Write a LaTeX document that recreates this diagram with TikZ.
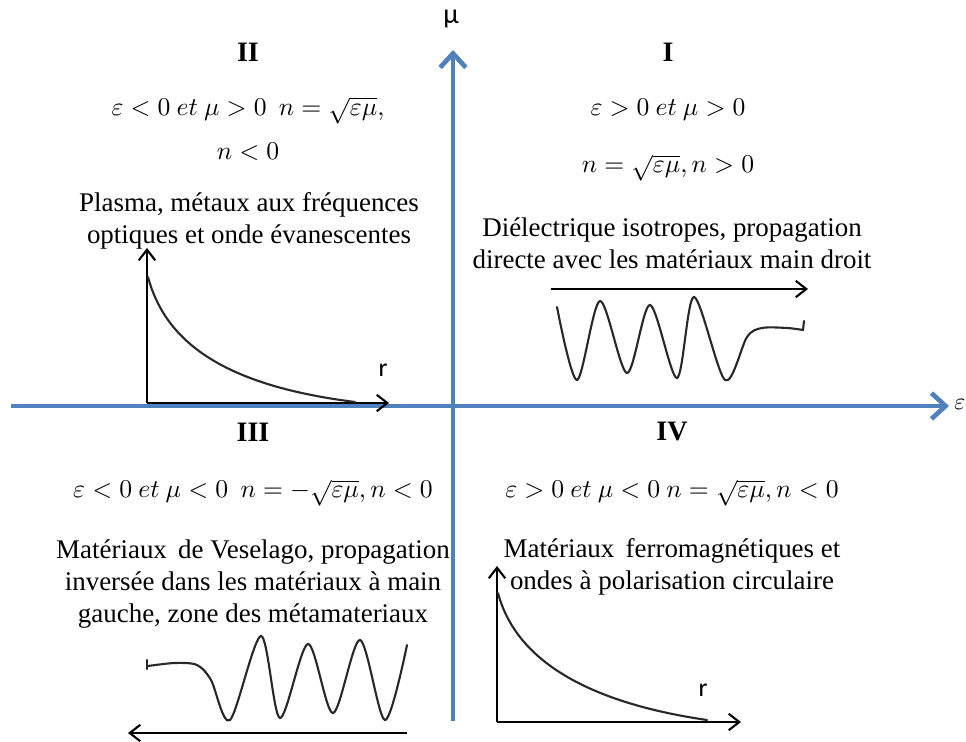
\documentclass[tikz,border=0pt]{standalone}
\usepackage{amsmath,amssymb}
\usepackage{fontspec}
\setmainfont{Liberation Serif}
\setsansfont{Carlito}
\usepackage{xcolor}
\usetikzlibrary{calc, positioning, arrows.meta}
\definecolor{axisblue}{RGB}{79,129,189}
\definecolor{wavegray}{RGB}{40,40,40}

\begin{document}
\begin{tikzpicture}[x=0.015cm, y=-0.015cm, >=Stealth]
    \tikzset{
        main axis/.style={line width=2pt, axisblue,
            -{Straight Barb[length=6pt, width=11pt, line width=2pt]}},
        small axis/.style={line width=0.9pt, black,
            -{Straight Barb[length=4.5pt, width=7pt, line width=0.9pt]}},
        wave/.style={line width=0.9pt, wavegray, line cap=round},
        txt/.style={align=center, font=\fontsize{11.5}{13.6}\selectfont, inner sep=0pt},
        mathtxt/.style={align=center, font=\fontsize{10.5}{13}\selectfont, inner sep=0pt},
        roman/.style={font=\bfseries\fontsize{12}{14}\selectfont, inner sep=0pt}
    }
    \useasboundingbox (0,0) rectangle (966,742);

    % axes epsilon / mu
    \coordinate (O) at (453,406);
    \coordinate (muTop) at (453,50);
    \coordinate (muBot) at (453,721);
    \coordinate (epsLeft) at (11,406);
    \coordinate (epsRight) at (949,406);
    \draw[main axis] (muBot) -- (muTop);
    \draw[main axis] (epsLeft) -- (epsRight);
    \node[font=\sffamily\fontsize{12}{14}\selectfont, inner sep=0pt] (mu) at (451,19) {μ};
    \node[anchor=west, inner sep=0pt] (eps) at (954,404) {$\varepsilon$};

    % quadrant II
    \node[roman] (labII) at (248,52) {II};
    \node[mathtxt] (condII) at (248,129) {$\varepsilon<0\ et\ \mu>0\ \ n=\sqrt{\varepsilon\mu},$\\[6pt] $n<0$};
    \node[txt] (descII) at (249,221) {Plasma, métaux aux fréquences\\optiques et onde évanescentes};
    \coordinate (oII) at (147,403);
    \coordinate (yII) at (147,248);
    \coordinate (xII) at (389,403);
    \draw[small axis] (oII) -- (yII);
    \draw[small axis] (oII) -- (xII);
    \draw[wave] (148,277) .. controls (165,340) and (220,385) .. (355,402);
    \node[font=\sffamily\fontsize{11}{13}\selectfont, inner sep=0pt] (rII) at (383,370) {r};

    % quadrant I
    \node[roman] (labI) at (668,52) {I};
    \node[mathtxt] (condI) at (668,110) {$\varepsilon>0\ et\ \mu>0$};
    \node[mathtxt] (nI) at (668,168) {$n=\sqrt{\varepsilon\mu}, n>0$};
    \node[txt] (descI) at (672,243) {Diélectrique isotropes, propagation\\directe avec les matériaux main droit};
    \coordinate (aI) at (551,289);
    \coordinate (bI) at (808,289);
    \draw[small axis] (aI) -- (bI);
    \draw[wave] plot[smooth] coordinates {(557,307) (577,380) (600,301) (627,373) (650,305) (677,378) (694,297) (725,380) (747,337) (762,328) (787,328) (803,330)};
    \draw[wave] (803,330) -- (804,321);

    % quadrant III
    \node[roman] (labIII) at (253,432) {III};
    \node[mathtxt] (condIII) at (253,493) {$\varepsilon<0\ et\ \mu<0\ \ n=-\sqrt{\varepsilon\mu}, n<0$};
    \node[txt] (descIII) at (253,584) {Matériaux\, de Veselago, propagation\\inversée dans les matériaux à main\\gauche, zone des métamateriaux};
    \draw[wave] (147,660) -- (147,669);
    \draw[wave] plot[smooth] coordinates {(148,666) (175,663) (197,665) (211,680) (230,720) (261,636) (280,718) (308,644) (333,713) (360,640) (385,720) (407,645)};
    \coordinate (aIII) at (407,733);
    \coordinate (bIII) at (128,733);
    \draw[small axis] (aIII) -- (bIII);

    % quadrant IV
    \node[roman] (labIV) at (672,432) {IV};
    \node[mathtxt] (condIV) at (672,493) {$\varepsilon>0\ et\ \mu<0\ n=\sqrt{\varepsilon\mu}, n<0$};
    \node[txt] (descIV) at (672,567) {Matériaux\, ferromagnétiques et\\ondes à polarisation circulaire};
    \coordinate (oIV) at (497,722);
    \coordinate (yIV) at (497,566);
    \coordinate (xIV) at (741,722);
    \draw[small axis] (oIV) -- (yIV);
    \draw[small axis] (oIV) -- (xIV);
    \draw[wave] (498,593) .. controls (513,650) and (570,700) .. (707,720);
    \node[font=\sffamily\fontsize{11}{13}\selectfont, inner sep=0pt] (rIV) at (703,690) {r};

\end{tikzpicture}
\end{document}
